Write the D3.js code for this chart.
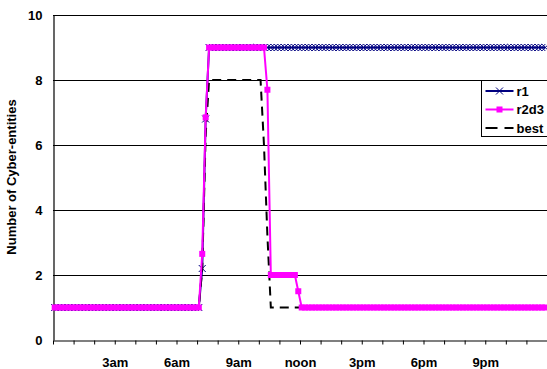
<!DOCTYPE html>
<html>
<head>
<meta charset="utf-8">
<script src="https://cdn.jsdelivr.net/npm/d3@7"></script>
<style>
  html, body { margin: 0; padding: 0; background: #fff; }
  svg { display: block; font-family: "Liberation Sans", Arial, sans-serif; font-weight: bold; }
</style>
</head>
<body>
<div id="chart"></div>
<script>
/* ================= Data ================= */

// samples every 10 minutes over one day, stored as [value, count] runs
const samplesPerHour = 6;
const hoursInDay = 24;

const r1Runs = [[1, 43], [2.2, 1], [6.8, 1], [9, 99]];
const r2d3Runs = [[1, 43], [2.65, 1], [6.85, 1], [9, 17], [7.7, 1], [2, 8], [1.5, 1], [1, 72]];
const bestRuns = [[1, 43], [2.2, 1], [6.3, 1], [8, 16], [6.0, 1], [3.2, 1], [1, 81]];

const seriesNames = ["r1", "r2d3", "best"];

const xTickHours = [3, 6, 9, 12, 15, 18, 21];
const xTickLabels = ["3am", "6am", "9am", "noon", "3pm", "6pm", "9pm"];
const yTicks = [0, 2, 4, 6, 8, 10];
const yTitle = "Number of Cyber-entities";

function expand(runs) {
  const out = [];
  runs.forEach(([v, n]) => { for (let k = 0; k < n; k++) out.push(v); });
  return out.map((v, i) => ({ t: (i + 0.5) / samplesPerHour, v }));
}

const series = {
  r1: expand(r1Runs),
  r2d3: expand(r2d3Runs),
  best: expand(bestRuns)
};

/* ================= Draw ================= */

const W = 547, H = 369;
const plot = { left: 53, right: 547, top: 15, bottom: 340 };

const svg = d3.select("#chart").append("svg")
  .attr("width", W)
  .attr("height", H);

const x = d3.scaleLinear().domain([0, hoursInDay]).range([plot.left, plot.right]);
const y = d3.scaleLinear().domain([0, 10]).range([plot.bottom, plot.top]);

/* ===== Grid ===== */

svg.append("g")
  .selectAll("line")
  .data(yTicks.filter(d => d > 0))
  .enter()
  .append("line")
  .attr("x1", plot.left)
  .attr("x2", plot.right)
  .attr("y1", d => Math.round(y(d)) + 0.5)
  .attr("y2", d => Math.round(y(d)) + 0.5)
  .attr("stroke", "#000")
  .attr("stroke-width", 1);

/* ===== Axes ===== */

const xAxis = svg.append("g")
  .attr("transform", `translate(0,${plot.bottom + 0.5})`)
  .call(d3.axisBottom(x)
    .tickValues(d3.range(0, hoursInDay))
    .tickSize(4)
    .tickSizeOuter(0)
    .tickFormat(d => {
      const k = xTickHours.indexOf(d);
      return k >= 0 ? xTickLabels[k] : "";
    }));

xAxis.select(".domain").attr("stroke", "#000").attr("stroke-width", 1.2);
xAxis.selectAll(".tick line").attr("stroke", "#000");
xAxis.selectAll(".tick text")
  .attr("y", 17)
  .attr("dy", "0.71em")
  .style("font-size", "13px")
  .style("font-weight", "bold")
  .style("font-family", "'Liberation Sans', Arial, sans-serif")
  .attr("fill", "#000");

const yAxis = svg.append("g")
  .attr("transform", `translate(${plot.left + 0.5},0)`)
  .call(d3.axisLeft(y).tickValues(yTicks).tickSize(0).tickPadding(11).tickSizeOuter(0));

yAxis.select(".domain").attr("stroke", "#000").attr("stroke-width", 1.2);
yAxis.selectAll(".tick text")
  .style("font-size", "13px")
  .style("font-weight", "bold")
  .style("font-family", "'Liberation Sans', Arial, sans-serif")
  .attr("fill", "#000");

svg.append("text")
  .attr("transform", `translate(16,177) rotate(-90)`)
  .attr("text-anchor", "middle")
  .style("font-size", "13px")
  .text(yTitle);

/* ===== Lines ===== */

const line = d3.line()
  .x(d => x(d.t))
  .y(d => y(d.v));

const g = svg.append("g");

// r1
g.append("path")
  .datum(series.r1)
  .attr("d", line)
  .attr("fill", "none")
  .attr("stroke", "#000080")
  .attr("stroke-width", 2);

const xMark = 3.5;
g.append("g")
  .selectAll("path")
  .data(series.r1)
  .enter()
  .append("path")
  .attr("d", d => {
    const cx = x(d.t), cy = y(d.v);
    return `M${cx - xMark},${cy - xMark}L${cx + xMark},${cy + xMark}M${cx - xMark},${cy + xMark}L${cx + xMark},${cy - xMark}`;
  })
  .attr("stroke", "#000080")
  .attr("stroke-width", 1);

// best
g.append("path")
  .datum(series.best)
  .attr("d", line)
  .attr("fill", "none")
  .attr("stroke", "#000")
  .attr("stroke-width", 2)
  .attr("stroke-dasharray", "9,6");

// r2d3
g.append("path")
  .datum(series.r2d3)
  .attr("d", line)
  .attr("fill", "none")
  .attr("stroke", "#ff00ff")
  .attr("stroke-width", 2);

const sq = 6;
g.append("g")
  .selectAll("rect")
  .data(series.r2d3)
  .enter()
  .append("rect")
  .attr("x", d => x(d.t) - sq / 2)
  .attr("y", d => y(d.v) - sq / 2)
  .attr("width", sq)
  .attr("height", sq)
  .attr("fill", "#ff00ff");

/* ===== Legend ===== */

const legend = svg.append("g").attr("transform", "translate(481.5,80.5)");

legend.append("rect")
  .attr("width", 70)
  .attr("height", 56)
  .attr("fill", "#fff")
  .attr("stroke", "#000")
  .attr("stroke-width", 1);

const rows = [10.5, 29, 47.5];

seriesNames.forEach((name, i) => {
  const row = legend.append("g").attr("transform", `translate(0,${rows[i]})`);
  const ln = row.append("line")
    .attr("x1", 4).attr("x2", 32)
    .attr("y1", 0).attr("y2", 0)
    .attr("stroke-width", 2);
  if (name === "r1") {
    ln.attr("stroke", "#000080");
    row.append("path")
      .attr("d", `M${18 - xMark},${-xMark}L${18 + xMark},${xMark}M${18 - xMark},${xMark}L${18 + xMark},${-xMark}`)
      .attr("stroke", "#000080")
      .attr("stroke-width", 1);
  } else if (name === "r2d3") {
    ln.attr("stroke", "#ff00ff");
    row.append("rect")
      .attr("x", 18 - sq / 2).attr("y", -sq / 2)
      .attr("width", sq).attr("height", sq)
      .attr("fill", "#ff00ff");
  } else {
    ln.attr("stroke", "#000").attr("stroke-dasharray", "12,7");
  }
  row.append("text")
    .attr("x", 35)
    .attr("dy", "0.35em")
    .style("font-size", "13px")
    .text(name);
});
</script>
</body>
</html>
